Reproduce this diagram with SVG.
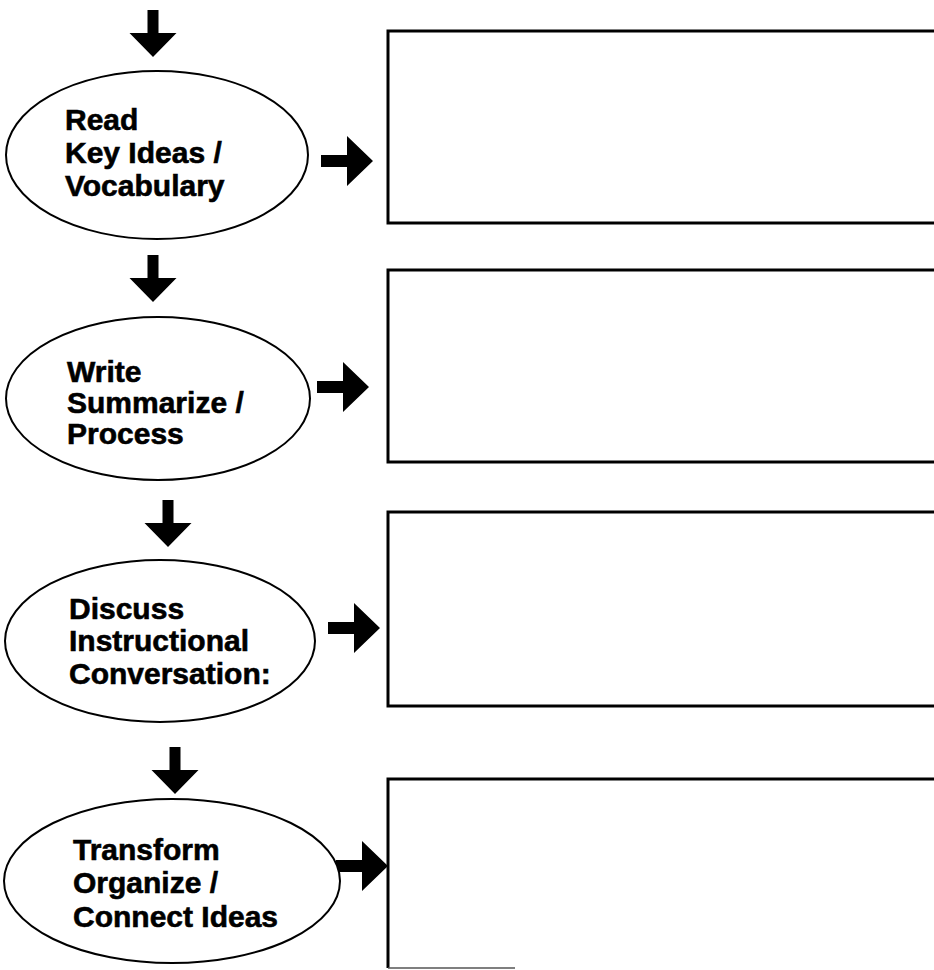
<svg xmlns="http://www.w3.org/2000/svg" xmlns:xlink="http://www.w3.org/1999/xlink" width="934" height="970" viewBox="0 0 934 970">
  <style>
    .bg { fill: #ffffff; }
    .step { fill: #ffffff; stroke: #000000; stroke-width: 2; }
    .box { fill: none; stroke: #000000; stroke-width: 3; }
    .edge-faint { fill: none; stroke: #555555; stroke-width: 1.5; }
    .label { font-family: "Liberation Sans", Arial, Helvetica, sans-serif; font-weight: bold; font-size: 30px; fill: #000000; stroke: #000000; stroke-width: 0.6; }
    .arrow { fill: #000000; stroke: none; }
  </style>
  <defs>
    <path id="downArrow" d="M-5.5,-47 H5.5 V-24 H23.5 L0,0 L-23.5,-24 H-5.5 Z"/>
    <path id="rightArrow" d="M-52,-6 H-26 V-25 L0,0 L-26,25 V6 H-52 Z"/>
  </defs>
  <rect class="bg" x="0" y="0" width="934" height="970"/>

  <g id="connectors">
    <use xlink:href="#downArrow" class="arrow" x="153" y="57"/>
    <use xlink:href="#rightArrow" class="arrow" x="373" y="161"/>
    <use xlink:href="#downArrow" class="arrow" x="153" y="302"/>
    <use xlink:href="#rightArrow" class="arrow" x="369" y="387"/>
    <use xlink:href="#downArrow" class="arrow" x="168" y="547"/>
    <use xlink:href="#rightArrow" class="arrow" x="380" y="628"/>
    <use xlink:href="#downArrow" class="arrow" x="175" y="794"/>
    <use xlink:href="#rightArrow" class="arrow" x="388" y="866"/>
  </g>

  <g id="node-read">
    <ellipse class="step" cx="157" cy="155" rx="151" ry="84"/>
    <text class="label" x="65" y="130">Read</text>
    <text class="label" x="65" y="163">Key Ideas /</text>
    <text class="label" x="65" y="196">Vocabulary</text>
  </g>
  <g id="box-read">
    <rect class="box" x="388" y="31" width="560" height="192"/>
  </g>

  <g id="node-write">
    <ellipse class="step" cx="158" cy="398.5" rx="152" ry="81.5"/>
    <text class="label" x="67" y="382">Write</text>
    <text class="label" x="67" y="413">Summarize /</text>
    <text class="label" x="67" y="444">Process</text>
  </g>
  <g id="box-write">
    <rect class="box" x="388" y="270" width="560" height="192"/>
  </g>

  <g id="node-discuss">
    <ellipse class="step" cx="160" cy="641" rx="155" ry="81"/>
    <text class="label" x="69" y="619">Discuss</text>
    <text class="label" x="69" y="651">Instructional</text>
    <text class="label" x="69" y="684">Conversation:</text>
  </g>
  <g id="box-discuss">
    <rect class="box" x="388" y="512" width="560" height="194"/>
  </g>

  <g id="node-transform">
    <ellipse class="step" cx="172" cy="881" rx="168" ry="82"/>
    <text class="label" x="73" y="860">Transform</text>
    <text class="label" x="73" y="893">Organize /</text>
    <text class="label" x="73" y="927">Connect Ideas</text>
  </g>
  <g id="box-transform">
    <path class="box" d="M940,779 H388 V968"/>
    <path class="edge-faint" d="M388,968 H515"/>
  </g>
</svg>
